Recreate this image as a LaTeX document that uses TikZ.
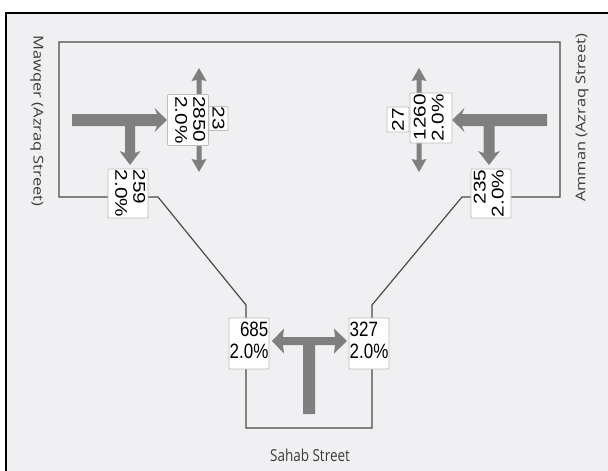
\documentclass[tikz,border=0pt]{standalone}
\usepackage{fontspec}
\setmainfont{Liberation Sans}
\newfontfamily\labelfont{Open Sans}
\definecolor{panel}{HTML}{F0F0F2}
\definecolor{road}{HTML}{4A4A4A}
\definecolor{arrowgray}{HTML}{7F7F7F}
\definecolor{boxedge}{HTML}{BDBDBD}
\definecolor{labelgray}{HTML}{3C3C3C}
% two-line volume/grade text
\newcommand{\vol}[3]{{\fontsize{17}{18}\selectfont\begin{tabular}{@{}#1@{}}#2\\#3\end{tabular}}}
\newcommand{\volone}[1]{{\fontsize{17}{18}\selectfont #1}}
\tikzset{
  volbox/.style={draw=boxedge, fill=white, rounded corners=1pt, inner sep=0pt, line width=0.8pt, text=black},
  movement/.style={fill=arrowgray, draw=none},
  roadline/.style={draw=road, line width=1.2pt, line join=miter},
  streetname/.style={inner sep=0pt, text=labelgray, font=\labelfont\fontsize{13.5}{15}\selectfont}
}
\begin{document}
\begin{tikzpicture}[x=1pt, y=-1pt]
\useasboundingbox (0,0) rectangle (608,471);
% panel and its frame
\fill[panel] (6,13) rectangle (608,471);
\draw[black, line width=2pt] (6,471) -- (6,13) -- (608,13);

% road outline
\coordinate (wbot) at (59,197);
\coordinate (wtop) at (59,42);
\coordinate (etop) at (560,42);
\coordinate (ebot) at (560,197);
\coordinate (ekink) at (462,197);
\coordinate (sekink) at (372,305);
\coordinate (sebot) at (372,428);
\coordinate (swbot) at (246,428);
\coordinate (swkink) at (246,305);
\coordinate (wkink) at (158,197);
\draw[roadline] (wbot) -- (wtop) -- (etop) -- (ebot) -- (ekink) -- (sekink) -- (sebot) -- (swbot) -- (swkink) -- (wkink) -- cycle;

% west approach: through and left
\fill[movement] (72,114) -- (157,114) -- (154.5,108) -- (167,120) -- (154.5,132) -- (157,126)
  -- (135,126) -- (135,153) -- (140.5,151) -- (130,165) -- (119.5,151) -- (125,153) -- (125,126) -- (72,126) -- cycle;
% east approach: through and right
\fill[movement] (547,114) -- (462,114) -- (464.5,108) -- (452,120) -- (464.5,132) -- (462,126)
  -- (483.5,126) -- (483.5,153) -- (478,151) -- (489,165) -- (500,151) -- (494.5,153) -- (494.5,126) -- (547,126) -- cycle;
% double arrows across the main road
\foreach \cx in {199,419}{
  \fill[movement] (\cx-2.5,80) -- (\cx-7.5,81) -- (\cx,68) -- (\cx+7.5,81) -- (\cx+2.5,80)
    -- (\cx+2.5,160) -- (\cx+7.5,159) -- (\cx,172) -- (\cx-7.5,159) -- (\cx-2.5,160) -- cycle;
}
% south approach: left and right
\fill[movement] (272,341) -- (284,328.5) -- (283,337) -- (335,337) -- (334,328.5) -- (347,341)
  -- (334,353.5) -- (335,345) -- (315,345) -- (315,414) -- (303,414) -- (303,345) -- (283,345) -- (284,353.5) -- cycle;

% volume boxes
\node[volbox, minimum width=41pt, minimum height=51pt] (b2850) at (188,120)
  {\rotatebox{-90}{\scalebox{1.22}[1]{\vol{l}{2850}{2.0\%}}}};
\node[volbox, minimum width=19pt, minimum height=24pt] (b23) at (218.5,118.5)
  {\rotatebox{-90}{\scalebox{1.22}[1]{\volone{23}}}};
\node[volbox, minimum width=40pt, minimum height=49pt] (b259) at (128,193.5)
  {\rotatebox{-90}{\scalebox{1.22}[1]{\vol{l}{259}{2.0\%}}}};
\node[volbox, minimum width=42pt, minimum height=50pt] (b1260) at (431,118)
  {\rotatebox{90}{\scalebox{1.22}[1]{\vol{r}{1260}{2.0\%}}}};
\node[volbox, minimum width=22pt, minimum height=25pt] (b27) at (398,119.5)
  {\rotatebox{90}{\scalebox{1.22}[1]{\volone{27}}}};
\node[volbox, minimum width=40pt, minimum height=49pt] (b235) at (491,193.5)
  {\rotatebox{90}{\scalebox{1.22}[1]{\vol{r}{235}{2.0\%}}}};
\node[volbox, minimum width=40pt, minimum height=51pt] (b685) at (249,343.5)
  {\scalebox{1}[1.22]{\vol{r}{685}{2.0\%}}};
\node[volbox, minimum width=40pt, minimum height=51pt] (b327) at (369,343.5)
  {\scalebox{1}[1.22]{\vol{l}{327}{2.0\%}}};

% street names
\node[streetname] (west) at (37,121) {\rotatebox{-90}{\scalebox{1.22}[1]{Mawqer (Azraq Street)}}};
\node[streetname] (east) at (582,118) {\rotatebox{90}{\scalebox{1.22}[1]{Amman (Azraq Street)}}};
\node[streetname] (south) at (310,455) {\scalebox{1}[1.22]{Sahab Street}};
\end{tikzpicture}
\end{document}
